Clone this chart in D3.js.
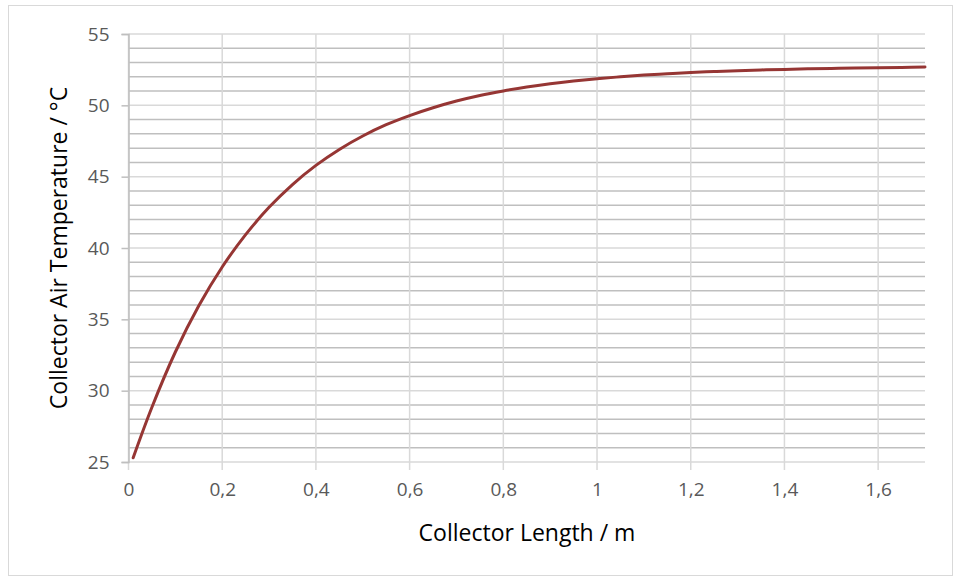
<!DOCTYPE html>
<html>
<head>
<meta charset="utf-8">
<script src="https://cdn.jsdelivr.net/npm/d3@7"></script>
<style>
  html, body { margin: 0; padding: 0; background: #fff; }
  svg { display: block; }
  text { font-family: "Open Sans", "Liberation Sans", sans-serif; }
</style>
</head>
<body>
<svg id="chart" width="959" height="579"></svg>
<script>
// Collector length (m) and air temperature (°C) along the collector
const lengths = [0.01, 0.05, 0.10, 0.15, 0.20, 0.25, 0.30, 0.35, 0.40, 0.45, 0.50, 0.55,
  0.60, 0.65, 0.70, 0.75, 0.80, 0.85, 0.90, 0.95, 1.00, 1.05, 1.10, 1.15, 1.20, 1.25,
  1.30, 1.35, 1.40, 1.45, 1.50, 1.55, 1.60, 1.65, 1.70];
const temperatures = [25.3, 28.84, 32.71, 35.95, 38.67, 40.94, 42.85, 44.45, 45.79, 46.91, 47.85, 48.64,
  49.28, 49.83, 50.3, 50.69, 51.01, 51.29, 51.52, 51.71, 51.87, 52.0, 52.12, 52.21, 52.3, 52.37,
  52.43, 52.48, 52.52, 52.56, 52.59, 52.62, 52.64, 52.66, 52.68];
const xTicks = [0, 0.2, 0.4, 0.6, 0.8, 1.0, 1.2, 1.4, 1.6];
const yTicks = [25, 30, 35, 40, 45, 50, 55];
const yMinorTicks = d3.range(26, 55).filter(v => v % 5 !== 0);

const svg = d3.select("#chart");
const plotLeft = 128.5, plotRight = 925, plotTop = 34, plotBottom = 462;

const x = d3.scaleLinear().domain([0, 1.7]).range([plotLeft, plotRight]);
const y = d3.scaleLinear().domain([25, 55]).range([plotBottom, plotTop]);

// chart frame
svg.append("rect")
  .attr("x", 8.5).attr("y", 5.5).attr("width", 944).attr("height", 570)
  .attr("fill", "#fff").attr("stroke", "#d9d9d9").attr("stroke-width", 1);

// minor horizontal gridlines
svg.append("g").selectAll("line").data(yMinorTicks).join("line")
  .attr("x1", plotLeft).attr("x2", plotRight)
  .attr("y1", d => y(d)).attr("y2", d => y(d))
  .attr("stroke", "#bfbfbf").attr("stroke-width", 1.5);

// major horizontal gridlines
svg.append("g").selectAll("line").data(yTicks).join("line")
  .attr("x1", plotLeft).attr("x2", plotRight)
  .attr("y1", d => y(d)).attr("y2", d => y(d))
  .attr("stroke", "#d9d9d9").attr("stroke-width", 1.5);

// vertical gridlines with ticks below the axis
svg.append("g").selectAll("line").data(xTicks).join("line")
  .attr("x1", d => x(d)).attr("x2", d => x(d))
  .attr("y1", plotTop).attr("y2", plotBottom + 8)
  .attr("stroke", "#d9d9d9").attr("stroke-width", 1.5);

// y axis
const yAxis = d3.axisLeft(y).tickValues(yTicks).tickSize(7).tickPadding(12);
const gy = svg.append("g").attr("transform", `translate(${plotLeft},0)`).call(yAxis);
gy.select(".domain").attr("stroke", "#bfbfbf").attr("stroke-width", 1.5);
gy.selectAll(".tick line").attr("stroke", "#bfbfbf").attr("stroke-width", 1.5);
gy.selectAll(".tick text")
  .attr("fill", "#595959").style("font-size", "19px")
  .style("font-family", "'Open Sans', sans-serif");

// x axis labels with comma decimals
const fmt = d => (Number.isInteger(d) ? String(d) : d3.format(".1f")(d).replace(".", ","));
const xAxis = d3.axisBottom(x).tickValues(xTicks).tickSize(0).tickPadding(21).tickFormat(fmt);
const gx = svg.append("g").attr("transform", `translate(0,${plotBottom})`).call(xAxis);
gx.select(".domain").remove();
gx.selectAll(".tick text")
  .attr("fill", "#595959").style("font-size", "19px")
  .style("font-family", "'Open Sans', sans-serif");

// temperature curve
const points = lengths.map((l, i) => [l, temperatures[i]]);
svg.append("path")
  .datum(points)
  .attr("fill", "none")
  .attr("stroke", "#963634")
  .attr("stroke-width", 3)
  .attr("stroke-linecap", "round")
  .attr("d", d3.line().x(d => x(d[0])).y(d => y(d[1])).curve(d3.curveCatmullRom));

// axis titles
svg.append("text")
  .attr("x", 527).attr("y", 541)
  .attr("text-anchor", "middle")
  .attr("fill", "#000")
  .style("font-size", "23px")
  .text("Collector Length / m");

svg.append("text")
  .attr("transform", "translate(67,248) rotate(-90)")
  .attr("text-anchor", "middle")
  .attr("fill", "#000")
  .style("font-size", "23px")
  .text("Collector Air Temperature / °C");
</script>
</body>
</html>
